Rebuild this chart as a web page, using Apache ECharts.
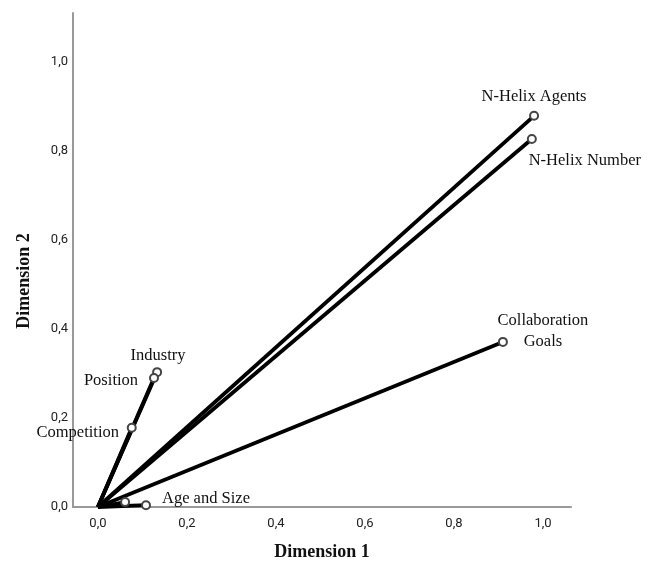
<!DOCTYPE html>
<html>
<head>
<meta charset="utf-8">
<script src="https://cdn.jsdelivr.net/npm/echarts@6/dist/echarts.min.js"></script>
<style>html,body{margin:0;padding:0;background:#fff}#c{width:654px;height:563px}</style>
</head>
<body>
<div id="c"></div>
<script>
// Data (Dimension 1, Dimension 2)
const names = ['N-Helix Agents', 'N-Helix Number', 'Collaboration\nGoals', 'Industry', 'Position', 'Competition', 'Age and Size', ''];
const dim1 = [0.980, 0.975, 0.910, 0.133, 0.126, 0.076, 0.108, 0.061];
const dim2 = [0.879, 0.827, 0.371, 0.303, 0.290, 0.178, 0.004, 0.011];
const tickValues = [0, 0.2, 0.4, 0.6, 0.8, 1.0];
const xTitle = 'Dimension 1';
const yTitle = 'Dimension 2';

// label placement (pixel offsets from the point), style only
const labelOffset = {
  'N-Helix Agents': [0, -19],
  'N-Helix Number': [53, 22],
  'Collaboration\nGoals': [40, -11],
  'Industry': [1, -16],
  'Position': [-43, 3],
  'Competition': [-54, 5],
  'Age and Size': [60, -7],
  '': [0, 0]
};

const fmt = v => v.toFixed(1).replace('.', ',');

const series = names.map((n, i) => ({
  type: 'line',
  name: n || 'unnamed',
  data: [[0, 0], [dim1[i], dim2[i]]],
  symbol: (val, p) => p.dataIndex === 0 ? 'none' : 'emptyCircle',
  symbolSize: 8,
  showAllSymbol: true,
  lineStyle: { color: '#000', width: 3.8 },
  itemStyle: { color: '#444', borderColor: '#444', borderWidth: 1.5 },
  emphasis: { disabled: true },
  label: {
    show: true,
    position: 'inside',
    offset: labelOffset[n],
    formatter: p => p.dataIndex === 0 ? '' : n,
    fontFamily: 'Liberation Serif',
    fontSize: 16.5,
    lineHeight: 21,
    color: '#111',
    align: 'center',
    verticalAlign: 'middle'
  },
  animation: false
}));

const chart = echarts.init(document.getElementById('c'));
chart.setOption({
  animation: false,
  grid: { left: 73, right: 83, top: 13, bottom: 56, outerBoundsMode: 'none' },
  graphic: [{
    type: 'text',
    x: 24, y: 281, rotation: Math.PI / 2,
    style: { text: yTitle, font: 'bold 18px "Liberation Serif"', fill: '#111', align: 'center', verticalAlign: 'middle' }
  }],
  xAxis: {
    type: 'value', min: -0.056, max: 1.063,
    name: xTitle, nameLocation: 'middle', nameGap: 36,
    nameTextStyle: { fontFamily: 'Liberation Serif', fontWeight: 'bold', fontSize: 18, color: '#111' },
    axisLine: { show: true, onZero: false, lineStyle: { color: '#999', width: 2 } },
    axisTick: { show: false },
    splitLine: { show: false },
    axisLabel: { customValues: tickValues, formatter: fmt, fontFamily: 'Roboto', fontSize: 13, color: '#222', margin: 10 }
  },
  yAxis: {
    type: 'value', min: 0, max: 1.110,
    axisLine: { show: true, onZero: false, lineStyle: { color: '#999', width: 2 } },
    axisTick: { show: false },
    splitLine: { show: false },
    axisLabel: { customValues: tickValues, formatter: fmt, fontFamily: 'Roboto', fontSize: 13, color: '#222', margin: 5 }
  },
  series: series
});
</script>
</body>
</html>
